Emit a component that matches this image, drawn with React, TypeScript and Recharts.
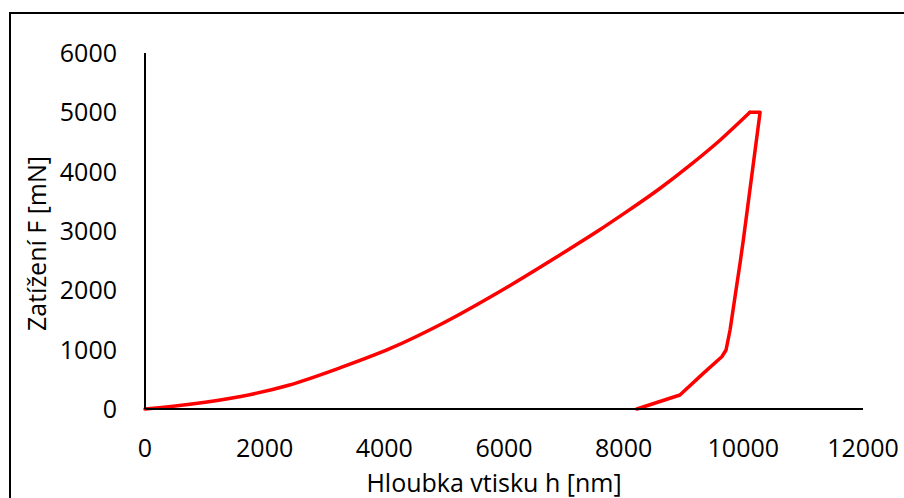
import React from "react";
import { LineChart, Line, XAxis, YAxis } from "recharts";

// Loading branch (h [nm], F [mN])
const loadH = [0, 750, 1600, 2400, 3250, 4100, 4930, 5930, 6940, 7600, 7940, 8610, 9110, 9610, 10110];
const loadF = [0, 80, 210, 400, 690, 1020, 1420, 1980, 2600, 3020, 3250, 3720, 4110, 4530, 5000];
// Hold at peak and unloading branch
const unloadH = [10110, 10280, 10000, 9945, 9861, 9778, 9711, 9640, 9330, 8940, 8220];
const unloadF = [5000, 5000, 2850, 2455, 1893, 1332, 994, 880, 600, 236, 0];

const xTicks = [0, 2000, 4000, 6000, 8000, 10000, 12000];
const yTicks = [0, 1000, 2000, 3000, 4000, 5000, 6000];

const xTitle = "Hloubka vtisku h [nm]";
const yTitle = "Zatížení F [mN]";

const loadData = loadH.map((h, i) => ({ h, F: loadF[i] }));
const unloadData = unloadH.map((h, i) => ({ h, F: unloadF[i] }));

const FONT = "'Open Sans', sans-serif";

export default function App() {
  return (
    <div
      style={{
        position: "absolute",
        left: 0,
        top: 0,
        width: 904,
        height: 498,
        overflow: "hidden",
        background: "#fff",
      }}
    >
      <div
        style={{
          position: "absolute",
          left: 9,
          top: 12,
          width: 1000,
          height: 1000,
          border: "2px solid #000",
          boxSizing: "border-box",
        }}
      />
      <div style={{ position: "absolute", left: 0, top: 0 }}>
        <LineChart
          width={904}
          height={498}
          margin={{ top: 53, right: 41, bottom: 0, left: 0 }}
        >
          <XAxis
            type="number"
            dataKey="h"
            domain={[0, 12000]}
            ticks={xTicks}
            height={89}
            tickLine={false}
            tickSize={0}
            tickMargin={30}
            axisLine={{ stroke: "#000", strokeWidth: 2 }}
            tick={{ fill: "#000", fontSize: 25, fontFamily: FONT }}
            interval={0}
            allowDuplicatedCategory={false}
            label={{
              content: () => (
                <text
                  x={494}
                  y={492}
                  textAnchor="middle"
                  fill="#000"
                  fontSize={25}
                  fontFamily={FONT}
                >
                  {xTitle}
                </text>
              ),
            }}
          />
          <YAxis
            type="number"
            dataKey="F"
            domain={[0, 6000]}
            ticks={yTicks}
            width={145}
            tickLine={false}
            tickSize={0}
            tickMargin={28}
            axisLine={{ stroke: "#000", strokeWidth: 2 }}
            tick={{ fill: "#000", fontSize: 25, fontFamily: FONT }}
            interval={0}
            label={{
              content: () => (
                <text
                  x={0}
                  y={0}
                  transform="translate(46,243.5) rotate(-90)"
                  textAnchor="middle"
                  fill="#000"
                  fontSize={25}
                  fontFamily={FONT}
                >
                  {yTitle}
                </text>
              ),
            }}
          />
          <Line
            data={loadData}
            type="monotone"
            dataKey="F"
            stroke="#ff0000"
            strokeWidth={3.5}
            dot={false}
            isAnimationActive={false}
            strokeLinejoin="round"
            strokeLinecap="round"
          />
          <Line
            data={unloadData}
            type="linear"
            dataKey="F"
            stroke="#ff0000"
            strokeWidth={3.5}
            dot={false}
            isAnimationActive={false}
            strokeLinejoin="round"
            strokeLinecap="round"
          />
        </LineChart>
      </div>
    </div>
  );
}
